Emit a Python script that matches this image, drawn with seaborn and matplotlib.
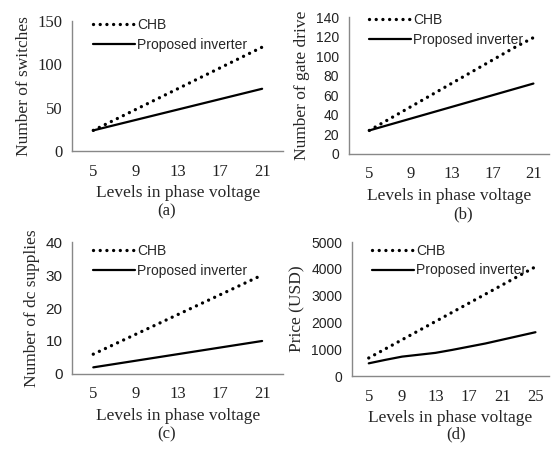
import matplotlib
matplotlib.use("Agg")
import matplotlib.pyplot as plt
import numpy as np
import pandas as pd
import seaborn as sns

levels = [5, 7, 9, 11, 13, 15, 17, 19, 21]
levels_price = [5, 7, 9, 11, 13, 15, 17, 19, 21, 23, 25]

switches_chb = [24, 36, 48, 60, 72, 84, 96, 108, 120]
switches_prop = [24, 30, 36, 42, 48, 54, 60, 66, 72]

gate_chb = [24, 36, 48, 60, 72, 84, 96, 108, 119]
gate_prop = [24, 30, 36, 42, 48, 54, 60, 66, 72]

dc_chb = [6, 9, 12, 15, 18, 21, 24, 27, 30]
dc_prop = [2, 3, 4, 5, 6, 7, 8, 9, 10]

price_chb = [680, 1020, 1360, 1700, 2040, 2380, 2720, 3060, 3400, 3740, 4080]
price_prop = [480, 610, 730, 800, 870, 980, 1100, 1220, 1360, 1500, 1640]

sns.set_style("white")
plt.rcParams['font.family'] = ['Liberation Serif', 'DejaVu Serif']

fig = plt.figure(figsize=(5.51, 4.5), dpi=100)

panels = [
    dict(rect=[0.131, 0.664, 0.383, 0.289], x=levels, chb=switches_chb, prop=switches_prop,
         ylabel='Number of switches', ylim=(0, 150), yticks=[0, 50, 100, 150], yfont='Liberation Serif', ysize=12,
         xlim=(3, 23), xticks=[5, 9, 13, 17, 21], minor=[7, 11, 15, 19], tag='(a)', tagpos=(0.303, 0.522),
         legy=1.12),
    dict(rect=[0.633, 0.658, 0.363, 0.304], x=levels, chb=gate_chb, prop=gate_prop,
         ylabel='Number of gate drive', ylim=(0, 140), yticks=[0, 20, 40, 60, 80, 100, 120, 140],
         yfont='Liberation Sans', ysize=10,
         xlim=(3, 22.5), xticks=[5, 9, 13, 17, 21], minor=[7, 11, 15, 19], tag='(b)', tagpos=(0.84, 0.515),
         legy=1.12),
    dict(rect=[0.131, 0.169, 0.383, 0.293], x=levels, chb=dc_chb, prop=dc_prop,
         ylabel='Number of dc supplies', ylim=(0, 40), yticks=[0, 10, 20, 30, 40], yfont='Liberation Sans', ysize=11,
         xlim=(3, 23), xticks=[5, 9, 13, 17, 21], minor=[7, 11, 15, 19], tag='(c)', tagpos=(0.303, 0.025),
         legy=1.08),
    dict(rect=[0.639, 0.164, 0.357, 0.298], x=levels_price, chb=price_chb, prop=price_prop,
         ylabel='Price (USD)', ylim=(0, 5000), yticks=[0, 1000, 2000, 3000, 4000, 5000],
         yfont='Liberation Sans', ysize=10,
         xlim=(3, 26.6), xticks=[5, 9, 13, 17, 21, 25], minor=[7, 11, 15, 19, 23], tag='(d)', tagpos=(0.827, 0.025),
         legy=1.08),
]

for p in panels:
    ax = fig.add_axes(p['rect'])
    df = pd.DataFrame({'level': p['x'], 'CHB': p['chb'], 'Proposed inverter': p['prop']})
    sns.lineplot(data=df, x='level', y='CHB', ax=ax, color='black', linewidth=2.4,
                 linestyle=(0, (0.01, 2.0)), dash_capstyle='round', label='CHB')
    sns.lineplot(data=df, x='level', y='Proposed inverter', ax=ax, color='black', linewidth=1.6,
                 label='Proposed inverter')
    ax.set_xlim(*p['xlim'])
    ax.set_ylim(*p['ylim'])
    ax.set_xticks(p['xticks'])
    ax.set_xticks(p['minor'], minor=True)
    ax.set_yticks(p['yticks'])
    ax.tick_params(axis='x', which='major', length=0, labelsize=12, pad=9, colors='#222222')
    ax.tick_params(axis='x', which='minor', length=4, direction='inout', color='#888888')
    ax.tick_params(axis='y', length=4, labelsize=p['ysize'], pad=3, labelcolor='#222222', color='#888888')
    for lab in ax.get_yticklabels():
        lab.set_family(p['yfont'])
    for s in ['top', 'right']:
        ax.spines[s].set_visible(False)
    for s in ['left', 'bottom']:
        ax.spines[s].set_color('#888888')
        ax.spines[s].set_linewidth(1.0)
    ax.set_xlabel('Levels in phase voltage', fontsize=12.5, labelpad=4)
    ax.set_ylabel(p['ylabel'], fontsize=12.5, labelpad=4)
    ax.legend(loc='upper left', bbox_to_anchor=(0.04, p['legy']), frameon=False,
              handlelength=3.0, handletextpad=0.15, labelspacing=0.4,
              prop={'family': 'Liberation Sans', 'size': 10})
    fig.text(p['tagpos'][0], p['tagpos'][1], p['tag'], fontsize=12, ha='center')

fig.savefig('out.png', dpi=100)
